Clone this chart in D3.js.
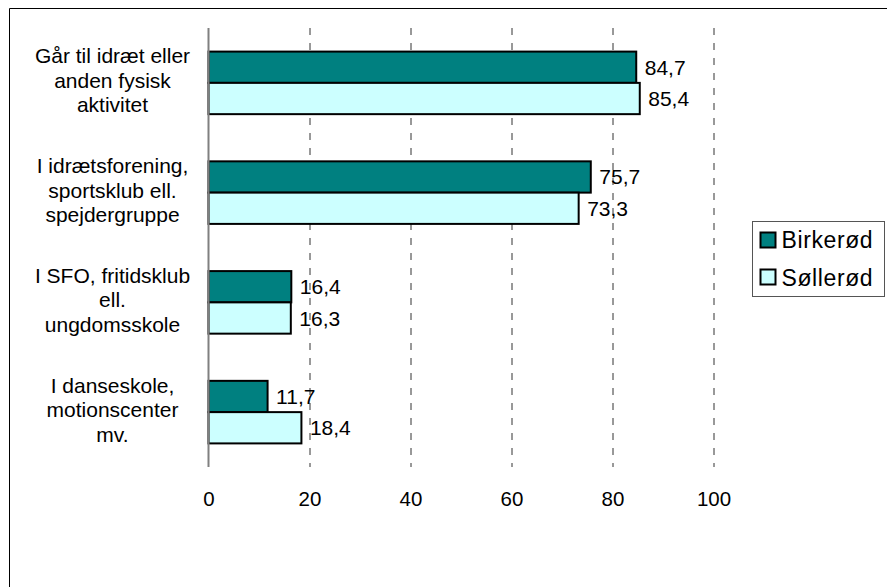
<!DOCTYPE html>
<html>
<head>
<meta charset="utf-8">
<script src="https://cdn.jsdelivr.net/npm/d3@7"></script>
<style>
  html, body { margin: 0; padding: 0; background: #fff; overflow: hidden; }
  svg { display: block; font-family: "Liberation Sans", Arial, sans-serif; }
</style>
</head>
<body>
<svg id="chart" width="887" height="587"></svg>
<script>
/* chart data */
const categories = ["cat1", "cat2", "cat3", "cat4"];
const categoryLabels = [
  ["Går til idræt eller", "anden fysisk", "aktivitet"],
  ["I idrætsforening,", "sportsklub ell.", "spejdergruppe"],
  ["I SFO, fritidsklub", "ell.", "ungdomsskole"],
  ["I danseskole,", "motionscenter", "mv."]
];
const seriesNames = ["Birkerød", "Søllerød"];
const birkerod = [84.7, 75.7, 16.4, 11.7];
const sollerod = [85.4, 73.3, 16.3, 18.4];
const xTicks = [0, 20, 40, 60, 80, 100];

const colors = ["#008080", "#CCFFFF"];

const svg = d3.select("#chart");
const margin = { top: 28, left: 208.5 };
const innerWidth = 505;
const innerHeight = 439;

/* outer frame: only top and left edges are inside the picture */
svg.append("line")
  .attr("x1", 9.5).attr("x2", 887)
  .attr("y1", 8.5).attr("y2", 8.5)
  .attr("stroke", "#000");
svg.append("line")
  .attr("x1", 9.5).attr("x2", 9.5)
  .attr("y1", 8.5).attr("y2", 587)
  .attr("stroke", "#000");

const g = svg.append("g").attr("transform", `translate(${margin.left}, ${margin.top})`);

/* scales */
const xScale = d3.scaleLinear().domain([0, 100]).range([0, innerWidth]);
const yScale = d3.scaleBand()
  .domain(categories)
  .range([0, innerHeight])
  .paddingInner(0.43)
  .paddingOuter(0.215);
const ySub = d3.scaleBand()
  .domain(seriesNames)
  .range([0, yScale.bandwidth()]);

/* dashed gridlines */
g.selectAll(".grid")
  .data(xTicks.filter((d) => d > 0))
  .enter()
  .append("line")
  .attr("x1", (d) => Math.round(xScale(d)) + 0.5)
  .attr("x2", (d) => Math.round(xScale(d)) + 0.5)
  .attr("y1", 0)
  .attr("y2", innerHeight)
  .attr("stroke", "#333")
  .attr("stroke-width", 1)
  .attr("stroke-dasharray", "7,8");

/* x axis tick labels */
const xAxis = d3.axisBottom(xScale).tickValues(xTicks).tickSize(0).tickPadding(0);
const xg = g.append("g")
  .attr("transform", `translate(0, ${innerHeight})`)
  .call(xAxis);
xg.select(".domain").remove();
xg.selectAll("text")
  .attr("y", 39)
  .attr("dy", 0)
  .style("font-size", "20.5px")
  .style("font-family", "'Liberation Sans', Arial, sans-serif")
  .attr("fill", "#000");

/* bars */
const series = [birkerod, sollerod];
series.forEach((vals, si) => {
  const grp = g.append("g");
  grp.selectAll("rect")
    .data(vals)
    .enter()
    .append("rect")
    .attr("x", 0)
    .attr("y", (d, i) => yScale(categories[i]) + ySub(seriesNames[si]))
    .attr("width", (d) => xScale(d))
    .attr("height", ySub.bandwidth())
    .attr("fill", colors[si])
    .attr("stroke", "#000")
    .attr("stroke-width", 2);

  grp.selectAll("text")
    .data(vals)
    .enter()
    .append("text")
    .attr("x", (d) => xScale(d) + 8.5)
    .attr("y", (d, i) => yScale(categories[i]) + ySub(seriesNames[si]) + ySub.bandwidth() / 2 + 7.5)
    .style("font-size", "21px")
    .text((d) => d.toFixed(1).replace(".", ","));
});

/* y axis line */
g.append("line")
  .attr("x1", 0).attr("x2", 0)
  .attr("y1", 0).attr("y2", innerHeight)
  .attr("stroke", "#808080")
  .attr("stroke-width", 2);

/* category labels */
categoryLabels.forEach((lines, i) => {
  const cy = yScale(categories[i]) + yScale.bandwidth() / 2;
  const t = g.append("text")
    .attr("text-anchor", "middle")
    .style("font-size", "21px");
  lines.forEach((line, j) => {
    t.append("tspan")
      .attr("x", -96)
      .attr("y", cy + 5 + (j - 1) * 24.5)
      .text(line);
  });
});

/* legend */
const legend = svg.append("g").attr("transform", "translate(752.5, 221.5)");
legend.append("rect")
  .attr("width", 132).attr("height", 75)
  .attr("fill", "#fff").attr("stroke", "#555").attr("stroke-width", 1);
seriesNames.forEach((name, i) => {
  legend.append("rect")
    .attr("x", 8).attr("y", 11 + i * 37)
    .attr("width", 15).attr("height", 15)
    .attr("fill", colors[i]).attr("stroke", "#000").attr("stroke-width", 2);
  legend.append("text")
    .attr("x", 29).attr("y", 26.5 + i * 37.5)
    .style("font-size", "23px")
    .style("letter-spacing", "0.6px")
    .text(name);
});
</script>
</body>
</html>
